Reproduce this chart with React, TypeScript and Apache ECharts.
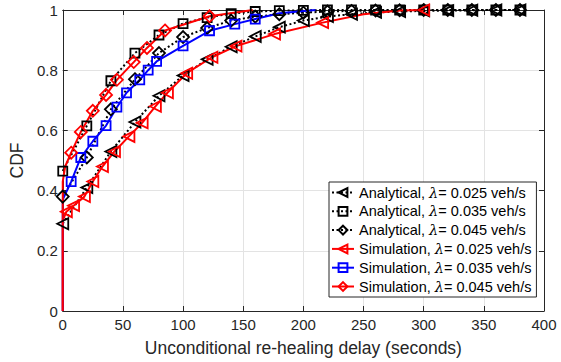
import React, { useEffect, useRef } from "react";
import * as echarts from "echarts";

// ---- data ----
const xTicks = [0, 50, 100, 150, 200, 250, 300, 350, 400];
const yTicks = [0, 0.2, 0.4, 0.6, 0.8, 1];

const seriesNames = [
  "Analytical, λ= 0.025 veh/s",
  "Analytical, λ= 0.035 veh/s",
  "Analytical, λ= 0.045 veh/s",
  "Simulation, λ= 0.025 veh/s",
  "Simulation, λ= 0.035 veh/s",
  "Simulation, λ= 0.045 veh/s",
];

// analytical curves sampled every 20 s
const analyticalT = [0, 20, 40, 60, 80, 100, 120, 140, 160, 180, 200, 220, 240, 260, 280, 300, 320, 340, 360, 380];
const ana025 = [0.29, 0.41, 0.53, 0.628, 0.715, 0.782, 0.836, 0.878, 0.912, 0.943, 0.965, 0.978, 0.986, 0.992, 0.995, 0.997, 0.998, 0.999, 1, 1];
const ana035 = [0.465, 0.615, 0.765, 0.857, 0.917, 0.955, 0.975, 0.988, 0.995, 0.998, 0.999, 1, 1, 1, 1, 1, 1, 1, 1, 1];
const ana045 = [0.38, 0.51, 0.67, 0.77, 0.857, 0.91, 0.94, 0.965, 0.978, 0.986, 0.991, 0.995, 0.997, 0.998, 0.999, 1, 1, 1, 1, 1];

// simulation curves: marked samples and extra unmarked vertices
const sim025MarkT = [3, 9, 18, 25, 33, 43, 55, 66, 77, 87, 103, 124, 144, 176, 216, 300];
const sim025MarkF = [0.33, 0.35, 0.38, 0.43, 0.48, 0.53, 0.58, 0.625, 0.68, 0.725, 0.79, 0.843, 0.88, 0.92, 0.958, 1.0];
const sim025LineT = [0, 0, 250, 280];
const sim025LineF = [0, 0.3, 0.986, 0.998];

const sim035MarkT = [7, 15, 25, 36, 45, 53, 64, 71, 78, 100, 122, 143, 160];
const sim035MarkF = [0.43, 0.51, 0.564, 0.616, 0.677, 0.725, 0.768, 0.8, 0.829, 0.881, 0.931, 0.953, 0.97];
const sim035LineT = [0, 0, 180, 210];
const sim035LineF = [0, 0.37, 0.989, 1.0];

const sim045MarkT = [7, 15, 25, 36, 45, 59, 70, 85, 122];
const sim045MarkF = [0.526, 0.595, 0.665, 0.718, 0.768, 0.827, 0.874, 0.932, 0.979];
const sim045LineT = [0, 0, 2, 158];
const sim045LineF = [0, 0.43, 0.48, 1.0];

const FONT = "'Liberation Sans', Arial, Helvetica, sans-serif";
const AXIS = "#262626";

function buildSim(lineT: number[], lineF: number[], markT: number[], markF: number[]) {
  const pts: { t: number; f: number; m: boolean }[] = [];
  lineT.forEach((t, i) => pts.push({ t, f: lineF[i], m: false }));
  markT.forEach((t, i) => pts.push({ t, f: markF[i], m: true }));
  pts.sort((a, b) => a.t - b.t || a.f - b.f);
  return pts.map((p) => (p.m ? { value: [p.t, p.f] } : { value: [p.t, p.f], symbol: "none" }));
}

function zip(t: number[], f: number[]) {
  return t.map((v, i) => [v, f[i]]);
}

export default function App() {
  const ref = useRef<HTMLDivElement>(null);
  useEffect(() => {
    if (!ref.current) return;
    const chart = echarts.init(ref.current, undefined, { renderer: "svg" });

    const hollow = (c: string) => ({ color: "rgba(255,255,255,0)", borderColor: c, borderWidth: 1.8 });
    const base = {
      type: "line",
      xAxisIndex: 0,
      yAxisIndex: 0,
      smooth: false,
      showSymbol: true,
      emphasis: { disabled: true },
    };

    const series: any[] = [
      {
        ...base,
        name: seriesNames[0],
        data: zip(analyticalT, ana025),
        symbol: "triangle",
        symbolRotate: 90,
        symbolSize: 11,
        lineStyle: { color: "#000", width: 2, type: [2, 2.5] },
        itemStyle: hollow("#000"),
      },
      {
        ...base,
        name: seriesNames[1],
        data: zip(analyticalT, ana035),
        symbol: "rect",
        symbolSize: 9,
        lineStyle: { color: "#000", width: 2, type: [2, 2.5] },
        itemStyle: hollow("#000"),
      },
      {
        ...base,
        name: seriesNames[2],
        data: zip(analyticalT, ana045),
        symbol: "diamond",
        symbolSize: 12,
        lineStyle: { color: "#000", width: 2, type: [2, 2.5] },
        itemStyle: hollow("#000"),
      },
      {
        ...base,
        name: seriesNames[3],
        data: buildSim(sim025LineT, sim025LineF, sim025MarkT, sim025MarkF),
        symbol: "triangle",
        symbolRotate: 90,
        symbolSize: 11,
        lineStyle: { color: "#ff0000", width: 2 },
        itemStyle: hollow("#ff0000"),
      },
      {
        ...base,
        name: seriesNames[4],
        data: buildSim(sim035LineT, sim035LineF, sim035MarkT, sim035MarkF),
        symbol: "rect",
        symbolSize: 9,
        lineStyle: { color: "#0000ff", width: 2 },
        itemStyle: hollow("#0000ff"),
      },
      {
        ...base,
        name: seriesNames[5],
        data: buildSim(sim045LineT, sim045LineF, sim045MarkT, sim045MarkF),
        symbol: "diamond",
        symbolSize: 12,
        lineStyle: { color: "#ff0000", width: 2 },
        itemStyle: hollow("#ff0000"),
      },
    ];

    const xMin = xTicks[0];
    const xMax = xTicks[xTicks.length - 1];
    const xInt = xTicks[1] - xTicks[0];
    const yMin = yTicks[0];
    const yMax = yTicks[yTicks.length - 1];
    const yInt = yTicks[1] - yTicks[0];

    const tickStyle = { show: true, inside: true, length: 5, lineStyle: { color: AXIS, width: 1 } };
    const lineSt = { show: true, onZero: false, lineStyle: { color: AXIS, width: 1 } };

    chart.setOption({
      animation: false,
      backgroundColor: "#fff",
      grid: { left: 58, top: 10, right: 17, bottom: 50, containLabel: false },
      xAxis: [
        {
          type: "value",
          position: "bottom",
          min: xMin,
          max: xMax,
          interval: xInt,
          axisLine: lineSt,
          axisTick: tickStyle,
          axisLabel: { color: AXIS, fontSize: 15, fontFamily: FONT, margin: 6 },
          splitLine: { show: true, lineStyle: { color: "#e3e3e3", width: 1 } },
          name: "Unconditional re-healing delay (seconds)",
          nameLocation: "middle",
          nameGap: 28,
          nameTextStyle: { color: AXIS, fontSize: 17.5, fontFamily: FONT },
        },
        {
          type: "value",
          position: "top",
          min: xMin,
          max: xMax,
          interval: xInt,
          axisLine: lineSt,
          axisTick: tickStyle,
          axisLabel: { show: false },
          splitLine: { show: false },
        },
      ],
      yAxis: [
        {
          type: "value",
          position: "left",
          min: yMin,
          max: yMax,
          interval: yInt,
          axisLine: lineSt,
          axisTick: tickStyle,
          axisLabel: { color: AXIS, fontSize: 15, fontFamily: FONT, margin: 5 },
          splitLine: { show: true, lineStyle: { color: "#e3e3e3", width: 1 } },
          name: "CDF",
          nameLocation: "middle",
          nameGap: 31,
          nameTextStyle: { color: AXIS, fontSize: 17.5, fontFamily: FONT },
        },
        {
          type: "value",
          position: "right",
          min: yMin,
          max: yMax,
          interval: yInt,
          axisLine: lineSt,
          axisTick: tickStyle,
          axisLabel: { show: false },
          splitLine: { show: false },
        },
      ],
      legend: {
        data: seriesNames,
        orient: "vertical",
        left: 329,
        top: 182,
        itemWidth: 22,
        itemHeight: 11,
        itemGap: 1.8,
        padding: [2, 5, 2, 2],
        borderColor: AXIS,
        borderWidth: 1,
        borderRadius: 0,
        backgroundColor: "#fff",
        selectedMode: false,
        formatter: (name: string) => name.replace("λ", "{l|λ}"),
        textStyle: {
          color: "#000",
          fontSize: 14.5,
          fontFamily: FONT,
          lineHeight: 17,
          rich: {
            l: { fontSize: 14.5, fontStyle: "italic", fontFamily: "'DejaVu Serif', serif", color: "#000", lineHeight: 17 },
          },
        },
      },
      series,
    });

    return () => chart.dispose();
  }, []);

  return <div ref={ref} style={{ width: 561, height: 362, position: "absolute", left: 0, top: 0 }} />;
}
